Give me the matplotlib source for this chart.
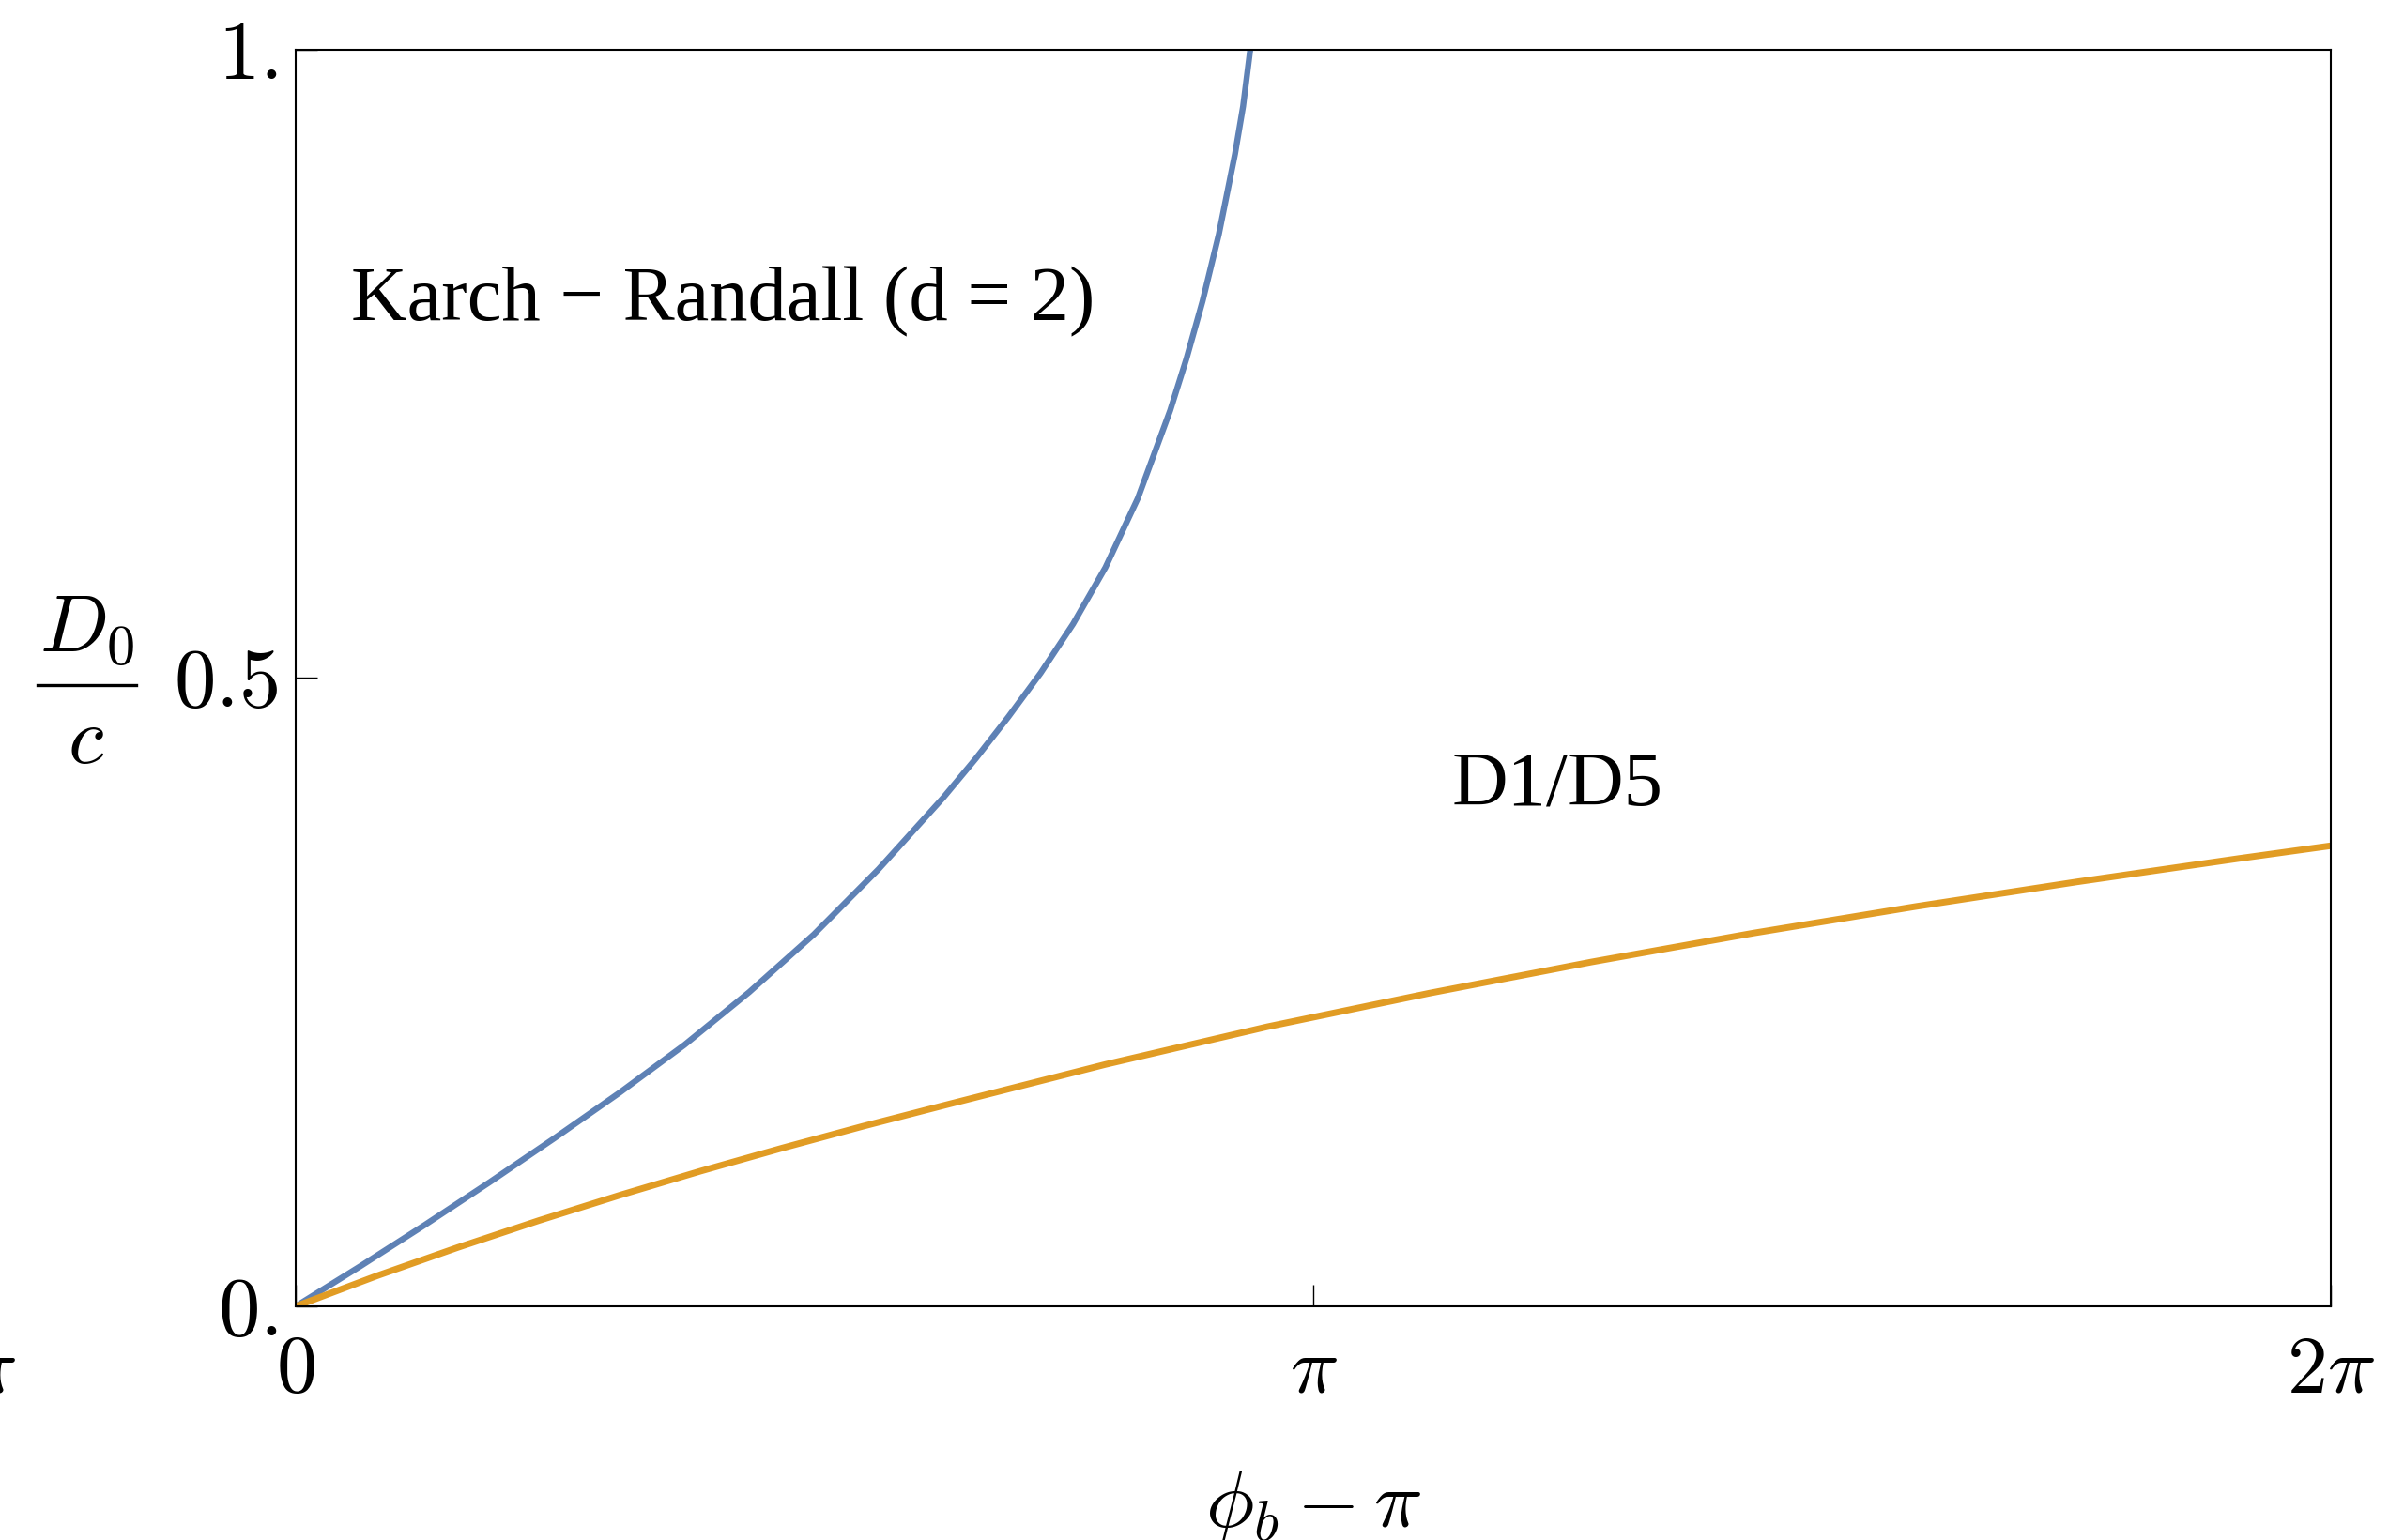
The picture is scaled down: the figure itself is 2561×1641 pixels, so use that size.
import numpy as np
import matplotlib
matplotlib.use("Agg")
import matplotlib.pyplot as plt
from matplotlib.lines import Line2D

plt.rcParams["mathtext.fontset"] = "cm"
plt.rcParams["font.family"] = ["Liberation Serif", "DejaVu Serif"]

# Karch-Randall (d = 2) branch: D0/c against phi_b - pi
kr_x = [0.0, 0.2, 0.4, 0.6, 0.8, 1.0, 1.2, 1.4, 1.6, 1.8, 2.0, 2.1, 2.2,
        2.3, 2.4, 2.5, 2.6, 2.7, 2.75, 2.8, 2.85, 2.9, 2.925, 2.947]
kr_y = [0.0, 0.032, 0.065, 0.099, 0.134, 0.170, 0.208, 0.250, 0.296, 0.348,
        0.405, 0.436, 0.469, 0.504, 0.543, 0.588, 0.643, 0.713, 0.754, 0.800,
        0.853, 0.917, 0.955, 1.0]

# D1/D5 branch
d15_x = [0.0, 0.25, 0.5, 0.75, 1.0, 1.25, 1.5, 1.75, 2.0, 2.5, 3.0, 3.5,
         4.0, 4.5, 5.0, 5.5, 6.0, 2 * np.pi]
d15_y = [0.0, 0.0242, 0.0468, 0.0682, 0.0884, 0.1076, 0.1258, 0.1432, 0.1598,
         0.1925, 0.2225, 0.2492, 0.2740, 0.2970, 0.3181, 0.3378, 0.3564, 0.3665]

x_ticks = [0.0, np.pi, 2 * np.pi]
x_tick_labels = [r"$0$", r"$\pi$", r"$2\pi$"]
y_ticks = [0.0, 0.5, 1.0]
y_tick_labels = [r"$0.$", r"$0.5$", r"$1.$"]

W, H = 2561, 1641
fig = plt.figure(figsize=(W / 100, H / 100), dpi=100)
ax = fig.add_axes([315 / W, 1 - 1392 / H, (2483 - 315) / W, (1392 - 53) / H])

ax.plot(kr_x, kr_y, color="#5E81B5", lw=4.6, solid_joinstyle="round")
ax.plot(d15_x, d15_y, color="#E19C24", lw=5.0, solid_joinstyle="round")

ax.set_xlim(0, 2 * np.pi)
ax.set_ylim(0, 1)

ax.set_xticks(x_ticks)
ax.set_xticklabels(x_tick_labels, fontsize=62)
ax.set_yticks(y_ticks)
ax.set_yticklabels(y_tick_labels, fontsize=64)
ax.tick_params(axis="both", direction="in", length=16.5, width=1.0, color="black")
ax.tick_params(axis="x", pad=22)
ax.tick_params(axis="y", pad=14)

for sp in ax.spines.values():
    sp.set_linewidth(1.5)
    sp.set_color("black")

ax.text(0.171, 0.785, "Karch \u2212 Randall (d = 2)", fontsize=59.5,
        ha="left", va="baseline")
ax.text(3.57, 0.399, "D1/D5", fontsize=59.5, ha="left", va="baseline")

# axis titles
fig.text(1399 / W, (H - 1627) / H, r"$\phi_b - \pi$", fontsize=62,
         ha="center", va="baseline")
fig.text(92 / W, 1 - 694 / H, r"$D_0$", fontsize=62, ha="center", va="baseline")
fig.add_artist(Line2D([40 / W, 145 / W], [1 - 730 / H, 1 - 730 / H],
                      color="black", lw=2.4, transform=fig.transFigure))
fig.text(92 / W, 1 - 813 / H, r"$c$", fontsize=62, ha="center", va="baseline")

fig.text(18 / W, 1 - 1484 / H, r"$-\pi$", fontsize=62, ha="right", va="baseline")

fig.savefig("out.png", dpi=100, facecolor="white")
